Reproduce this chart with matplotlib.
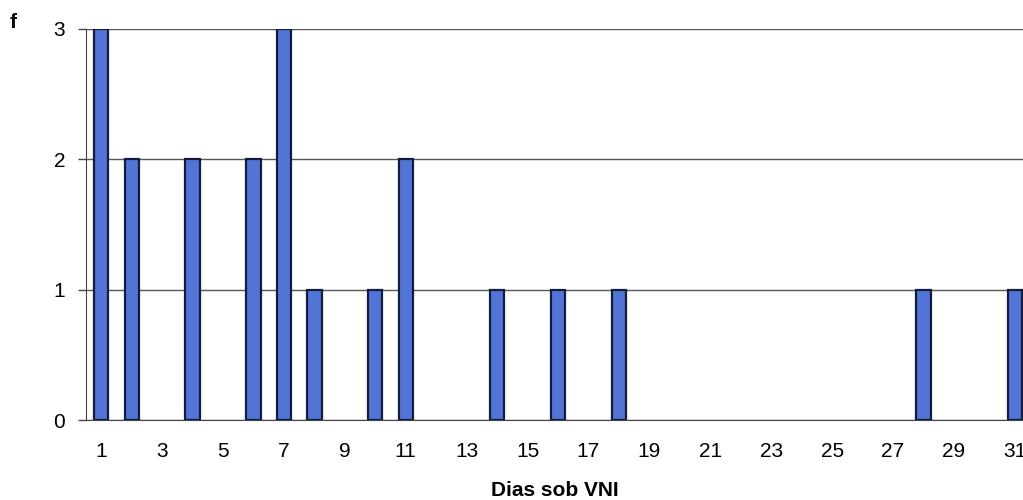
import matplotlib.pyplot as plt

plt.rcParams['font.family'] = ['Liberation Sans', 'DejaVu Sans']

days = [1, 2, 4, 6, 7, 8, 10, 11, 14, 16, 18, 28, 31]
freq = [3, 2, 2, 2, 3, 1, 1, 2, 1, 1, 1, 1, 1]
xticks = list(range(1, 32, 2))
yticks = [0, 1, 2, 3]

fig = plt.figure(figsize=(10.23, 5.0), dpi=100)
ax = fig.add_axes([86 / 1023, 0.16, (1030 - 86) / 1023, 0.782])

ax.bar(days, freq, width=0.47, color='#5274d6', edgecolor='#141c3c',
       linewidth=1.6, zorder=3)

ax.set_xlim(0.5, 31.5)
ax.set_ylim(0, 3)
ax.set_xticks(xticks)
ax.set_yticks(yticks)
ax.tick_params(axis='x', length=0, pad=16, labelsize=15)
ax.tick_params(axis='y', length=6, width=1, color='#444444', pad=9, labelsize=15)
ax.yaxis.grid(True, color='#555555', linewidth=1, zorder=1)

for s in ['top', 'right']:
    ax.spines[s].set_visible(False)
ax.spines['left'].set_color('#444444')
ax.spines['bottom'].set_color('#444444')

fig.text(555 / 1023, 1 - 491 / 500, 'Dias sob VNI', ha='center', va='center',
         fontsize=15, fontweight='bold')
fig.text(10 / 1023, 1 - 22 / 500, 'f', va='center', fontsize=15, fontweight='bold')

fig.savefig('out.png', dpi=100)
